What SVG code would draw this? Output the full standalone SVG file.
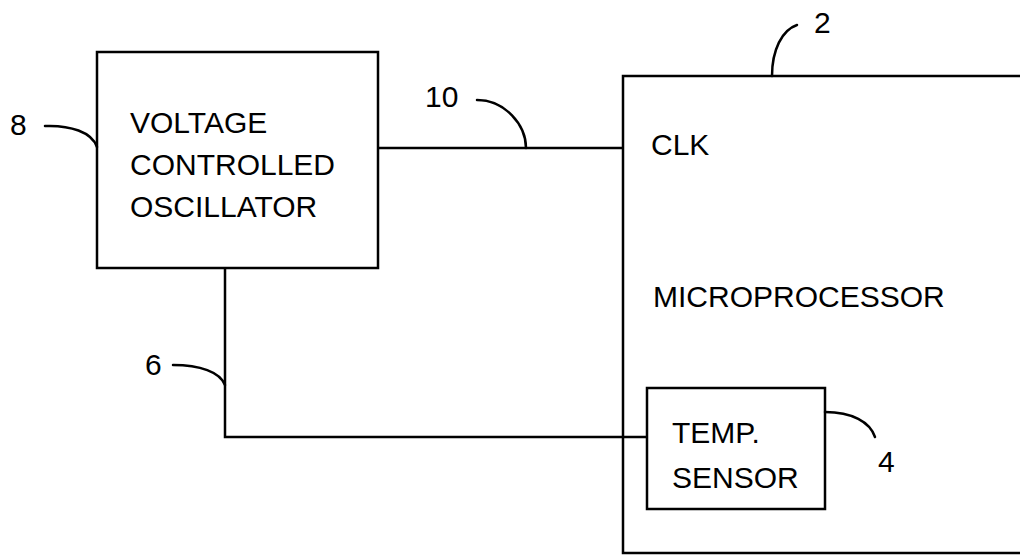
<svg xmlns="http://www.w3.org/2000/svg" width="1020" height="556" viewBox="0 0 1020 556">
<style>
.box{fill:none;stroke:#000;stroke-width:2.5}
.ln{fill:none;stroke:#000;stroke-width:2.5}
.ld{fill:none;stroke:#000;stroke-width:2.5;stroke-linecap:round}
text{font-family:"Liberation Sans",Arial,sans-serif;font-size:30px;fill:#000}
</style>
<rect width="1020" height="556" fill="#fff"/>
<g id="vco">
<rect class="box" x="97" y="52" width="281" height="216"/>
<text x="130" y="133">VOLTAGE</text>
<text x="130" y="175">CONTROLLED</text>
<text x="130" y="217">OSCILLATOR</text>
</g>
<g id="microprocessor">
<path class="box" d="M1022,76 H623 V553 H1022"/>
<text x="651" y="155">CLK</text>
<text x="653" y="307">MICROPROCESSOR</text>
</g>
<g id="temp-sensor">
<rect class="box" x="647" y="388" width="178" height="121"/>
<text x="672" y="443">TEMP.</text>
<text x="672" y="488">SENSOR</text>
</g>
<g id="connectors">
<path class="ln" d="M378,148 H623"/>
<path class="ln" d="M225,268 V437 H647"/>
</g>
<g id="labels">
<text x="10" y="135">8</text>
<path class="ld" d="M45,126 C70,125 92,132 97,147"/>
<text x="425" y="107">10</text>
<path class="ld" d="M477,100 C505,100 526,125 526,148"/>
<text x="814" y="33">2</text>
<path class="ld" d="M772,76 C772,50 782,30 797,25"/>
<text x="145" y="375">6</text>
<path class="ld" d="M173,365 C200,365 220,372 225,385"/>
<text x="878" y="472">4</text>
<path class="ld" d="M825,412 C852,412 870,422 875,437"/>
</g>
</svg>
